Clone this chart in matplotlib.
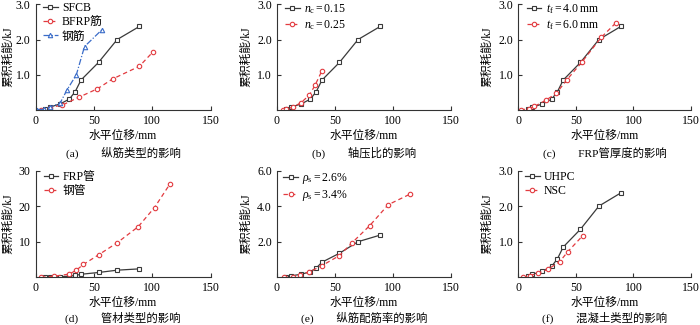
import matplotlib
matplotlib.use("Agg")
import matplotlib.pyplot as plt

plt.rcParams['font.family'] = ['Liberation Serif', 'Noto Sans CJK SC']
plt.rcParams['mathtext.fontset'] = 'custom'
plt.rcParams['mathtext.rm'] = 'Liberation Serif'
plt.rcParams['mathtext.it'] = 'Liberation Serif:italic'
plt.rcParams['axes.unicode_minus'] = False

# ---- data: horizontal displacement (mm) vs cumulative energy dissipation (kJ) ----
sfcb_disp = [8, 12, 21, 29, 34, 39, 54, 70, 89]
sfcb_energy = [0.03, 0.08, 0.17, 0.31, 0.52, 0.85, 1.35, 2.00, 2.37]

bfrp_disp = [5, 12, 23, 37, 53, 66, 89, 101]
bfrp_energy = [0.00, 0.07, 0.14, 0.36, 0.60, 0.88, 1.24, 1.66]

steelbar_disp = [1, 7, 12, 21, 27, 35, 42, 57]
steelbar_energy = [0.01, 0.02, 0.08, 0.19, 0.57, 1.00, 1.80, 2.28]

nc025_disp = [5, 8, 14, 21, 28, 33, 39]
nc025_energy = [0.00, 0.02, 0.08, 0.21, 0.42, 0.70, 1.12]

tf6_disp = [2, 9, 14, 24, 33, 42, 55, 72, 85]
tf6_energy = [0.00, 0.04, 0.10, 0.28, 0.47, 0.85, 1.35, 2.06, 2.48]

steeltube_disp = [5, 16, 29, 35, 41, 54, 70, 88, 102, 115]
steeltube_energy = [0.0, 0.3, 0.9, 2.0, 3.6, 6.3, 9.7, 14.2, 19.6, 26.1]

rho34_disp = [6, 14, 20, 28, 39, 54, 65, 80, 96, 115]
rho34_energy = [0.00, 0.02, 0.15, 0.30, 0.66, 1.22, 1.95, 2.90, 4.08, 4.68]

nsc_disp = [4, 10, 17, 26, 36, 43, 56]
nsc_energy = [0.00, 0.05, 0.11, 0.23, 0.44, 0.72, 1.17]

captions = ["(a)\u2003\u2003纵筋类型的影响", "(b)\u2003\u2003轴压比的影响",
            "(c)\u2003\u2003FRP管厚度的影响", "(d)\u2003\u2003管材类型的影响",
            "(e)\u2003\u2003纵筋配筋率的影响", "(f)\u2003\u2003混凝土类型的影响"]
xlabel = "水平位移/mm"
ylabel = "累积耗能/kJ"
x_ticks = [0, 50, 100, 150]

BLACK = '#3a3a3a'
RED = '#e23a3f'
BLUE = '#3a6cc8'

black_style = dict(color=BLACK, lw=0.9, marker='s', ms=3.0, mfc='white', mew=0.8)
red_style = dict(color=RED, lw=0.9, ls=(0, (3.5, 2.5)), marker='o', ms=3.2, mfc='white', mew=0.8)
blue_style = dict(color=BLUE, lw=0.9, ls=(0, (5, 1.5, 1, 1.5)), marker='^', ms=3.2, mfc='white', mew=0.8)

W, H = 700, 325
fig = plt.figure(figsize=(W / 100, H / 100), dpi=100)

# axes boxes in pixels: (left, top, right, bottom)
boxes = [
    (35.5, 4.3, 210.5, 110.0),
    (276.7, 4.3, 451.0, 110.0),
    (518.3, 4.3, 691.0, 110.0),
    (35.5, 170.5, 210.5, 277.3),
    (276.7, 170.5, 451.0, 277.3),
    (518.3, 170.5, 691.0, 277.3),
]
ylabel_x = [8, 246, 487, 8, 246, 487]

FS = 8.5


def make_axes(i):
    l, t, r, b = boxes[i]
    ax = fig.add_axes([l / W, 1 - b / H, (r - l) / W, (b - t) / H])
    for s in ('top', 'right'):
        ax.spines[s].set_visible(False)
    for s in ('left', 'bottom'):
        ax.spines[s].set_color('#333333')
        ax.spines[s].set_linewidth(0.8)
    ax.tick_params(direction='in', length=3, width=0.8, color='#333333',
                   labelsize=FS, pad=3.5)
    ax.set_xlim(0, 150)
    ax.set_xticks(x_ticks)
    ax.set_xticklabels([str(v) for v in x_ticks])
    cx = (l + r) / 2
    row_top = i < 3
    fig.text(cx / W, 1 - (136 if row_top else 303) / H, xlabel, ha='center',
             va='center', fontsize=FS)
    fig.text(cx / W, 1 - (153 if row_top else 318) / H, captions[i],
             ha='center', va='center', fontsize=8.2)
    fig.text(ylabel_x[i] / W, 1 - ((t + b) / 2) / H, ylabel, rotation=90,
             ha='center', va='center', fontsize=FS)
    return ax


def set_y(ax, top, ticks, fmt):
    ax.set_ylim(0, top)
    ax.set_yticks(ticks)
    ax.set_yticklabels([fmt.format(v) for v in ticks])


def add_legend(ax, dx_px, dy_px, i):
    l, t, r, b = boxes[i]
    leg = ax.legend(loc='upper left',
                    bbox_to_anchor=(dx_px / (r - l), 1 + dy_px / (b - t)),
                    frameon=False, fontsize=FS, borderpad=0, borderaxespad=0,
                    handlelength=1.25, handletextpad=0.35, labelspacing=0.2,
                    numpoints=1)
    return leg


# (a) longitudinal reinforcement type
ax = make_axes(0)
set_y(ax, 3.0, [1.0, 2.0, 3.0], "{:.1f}")
ax.plot(sfcb_disp, sfcb_energy, label='SFCB', **black_style)
ax.plot(bfrp_disp, bfrp_energy, label='BFRP筋', **red_style)
ax.plot(steelbar_disp, steelbar_energy, label='钢筋', **blue_style)
add_legend(ax, 7.5, 2.5, 0)

# (b) axial compression ratio
ax = make_axes(1)
set_y(ax, 3.0, [1.0, 2.0, 3.0], "{:.1f}")
ax.plot(sfcb_disp, sfcb_energy, label=r'$n_\mathrm{c}=0.15$', **black_style)
ax.plot(nc025_disp, nc025_energy, label=r'$n_\mathrm{c}=0.25$', **red_style)
add_legend(ax, 8.3, 2.5, 1)

# (c) FRP tube thickness
ax = make_axes(2)
set_y(ax, 3.0, [1.0, 2.0, 3.0], "{:.1f}")
ax.plot(sfcb_disp, sfcb_energy, label=r'$t_\mathrm{f}=4.0\ \mathrm{mm}$', **black_style)
ax.plot(tf6_disp, tf6_energy, label=r'$t_\mathrm{f}=6.0\ \mathrm{mm}$', **red_style)
add_legend(ax, 8.4, 2.5, 2)

# (d) tube material
ax = make_axes(3)
set_y(ax, 30, [10, 20, 30], "{:d}")
ax.plot(sfcb_disp, sfcb_energy, label='FRP管', **black_style)
ax.plot(steeltube_disp, steeltube_energy, label='钢管', **red_style)
add_legend(ax, 8.0, -0.5, 3)

# (e) longitudinal reinforcement ratio
ax = make_axes(4)
set_y(ax, 6.0, [2.0, 4.0, 6.0], "{:.1f}")
ax.plot(sfcb_disp, sfcb_energy, label=r'$\rho_\mathrm{s}=2.6\%$', **black_style)
ax.plot(rho34_disp, rho34_energy, label=r'$\rho_\mathrm{s}=3.4\%$', **red_style)
add_legend(ax, 6.6, -0.5, 4)

# (f) concrete type
ax = make_axes(5)
set_y(ax, 3.0, [1.0, 2.0, 3.0], "{:.1f}")
ax.plot(sfcb_disp, sfcb_energy, label='UHPC', **black_style)
ax.plot(nsc_disp, nsc_energy, label='NSC', **red_style)
add_legend(ax, 6.7, -0.5, 5)

fig.savefig('out.png', dpi=100)
